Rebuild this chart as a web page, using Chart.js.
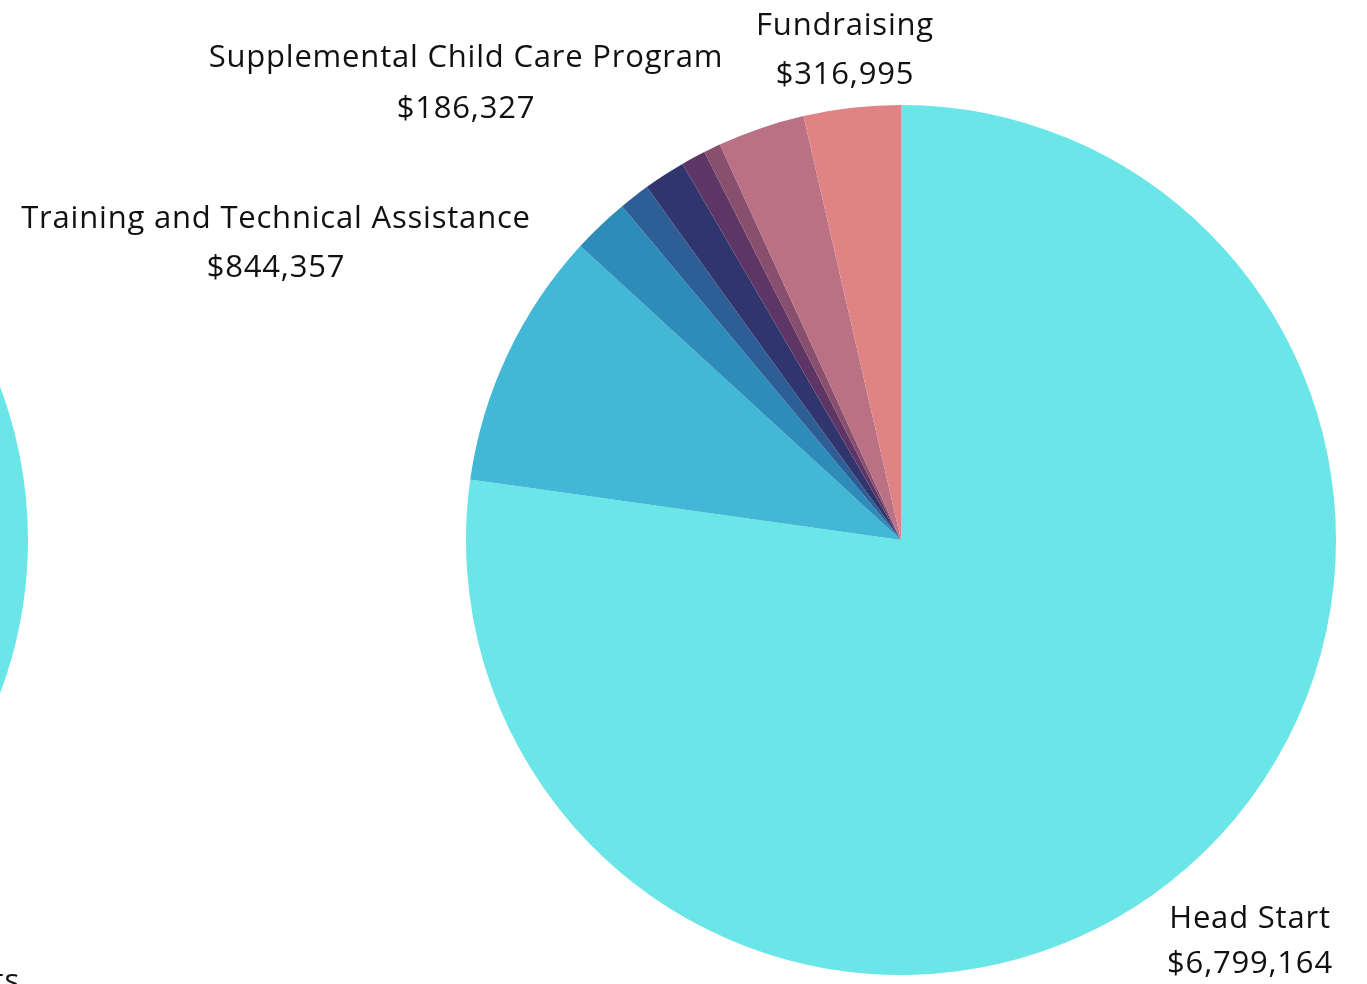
<!DOCTYPE html>
<html>
<head>
<meta charset="utf-8">
<script src="https://cdn.jsdelivr.net/npm/chart.js@4"></script>
<style>
  html, body { margin: 0; padding: 0; background: #ffffff; }
  body { width: 1367px; height: 984px; overflow: hidden; position: relative; }
  canvas { position: absolute; top: 0; }
  #left { left: -1000px; }
  #right { left: 0; }
</style>
</head>
<body>
<canvas id="left" width="1028" height="984"></canvas>
<canvas id="right" width="1367" height="984"></canvas>
<script>
// Right pie (expenses) — clockwise from 12 o'clock
const categories = [
  "Head Start",
  "Training and Technical Assistance",
  "Supplemental Child Care Program",
  "Program D",
  "Program E",
  "Program F",
  "Program G",
  "Program H",
  "Fundraising"
];
const values = [6799164, 844357, 186327, 100500, 137200, 80000, 55500, 285100, 316995];
const colors = ["#6ae5e8", "#42b8d6", "#2e8cb9", "#2e5e96", "#30356d", "#5d3665", "#884f6f", "#b97183", "#e08384"];

// Labels shown on the picture (category index), placed outside the pie
const shownLabels = [0, 1, 2, 8];
const labelLayout = {
  0: { x: 1250, y1: 928, y2: 973, align: "center" },
  1: { x: 276, y1: 228, y2: 277, align: "center" },
  2: { x: 466, y1: 67, y2: 118, align: "center" },
  8: { x: 845, y1: 35, y2: 84, align: "center" }
};

// Left pie (partly off-screen)
const leftCategories = ["Grants", "Other"];
const leftValues = [7900000, 900000];
const leftColors = ["#6ae5e8", "#42b8d6"];
const leftLabelText = "Federal Grants";

const FONT = "31px 'Open Sans', Lato, sans-serif";
const SPACING = "0.8px";
const fmt = v => "$" + v.toLocaleString("en-US");

function setText(ctx) {
  ctx.font = FONT;
  ctx.fillStyle = "#111111";
  ctx.textBaseline = "alphabetic";
  if ("letterSpacing" in ctx) ctx.letterSpacing = SPACING;
}

const rightLabels = {
  id: "rightLabels",
  afterDraw(chart) {
    const ctx = chart.ctx;
    ctx.save();
    setText(ctx);
    shownLabels.forEach(i => {
      const p = labelLayout[i];
      ctx.textAlign = p.align;
      ctx.fillText(categories[i], p.x, p.y1);
      ctx.fillText(fmt(values[i]), p.x, p.y2);
    });
    ctx.restore();
  }
};

const leftLabels = {
  id: "leftLabels",
  afterDraw(chart) {
    const ctx = chart.ctx;
    ctx.save();
    setText(ctx);
    ctx.textAlign = "right";
    ctx.fillText(leftLabelText, 1020, 991);
    ctx.restore();
  }
};

const common = {
  responsive: false,
  animation: false,
  events: [],
  plugins: { legend: { display: false }, tooltip: { enabled: false } }
};

new Chart(document.getElementById("right"), {
  type: "pie",
  data: {
    labels: categories,
    datasets: [{ data: values, backgroundColor: colors, borderWidth: 0, hoverOffset: 0 }]
  },
  options: Object.assign({}, common, {
    layout: { padding: { left: 466, top: 105, right: 31, bottom: 9 } }
  }),
  plugins: [rightLabels]
});

new Chart(document.getElementById("left"), {
  type: "pie",
  data: {
    labels: leftCategories,
    datasets: [{ data: leftValues, backgroundColor: leftColors, borderWidth: 0, hoverOffset: 0 }]
  },
  options: Object.assign({}, common, {
    layout: { padding: { left: 158, top: 105, right: 0, bottom: 9 } }
  }),
  plugins: [leftLabels]
});
</script>
</body>
</html>
